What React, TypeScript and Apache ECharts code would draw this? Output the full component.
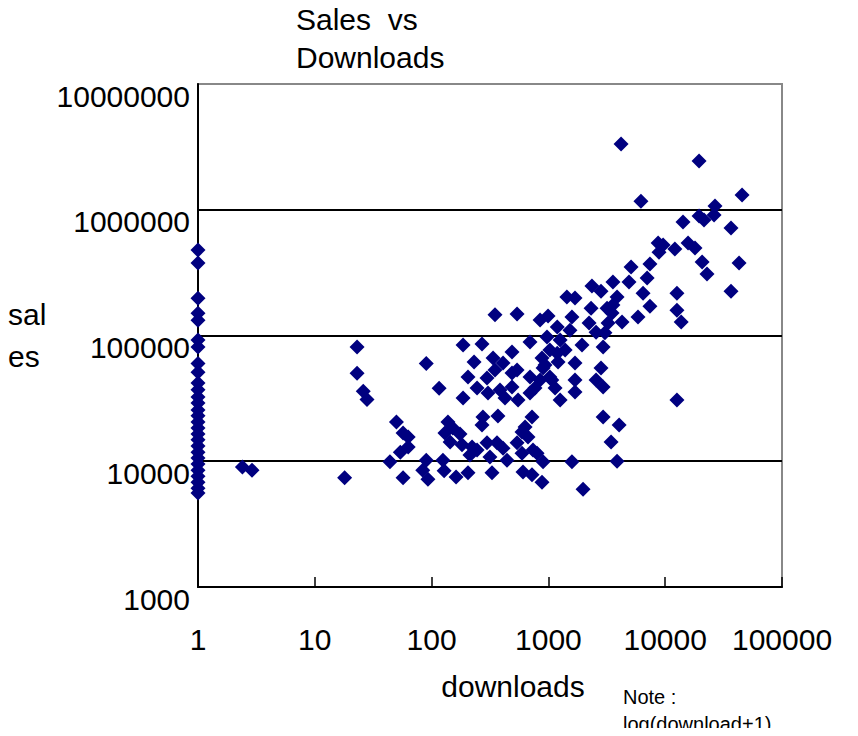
import React, { useEffect, useRef } from "react";
import * as echarts from "echarts";

const titleText = "Sales  vs\nDownloads";
const xAxisName = "downloads";
const yAxisName = "sal\nes";
const noteText = "Note :\nlog(download+1)";

const xMin = 1;
const xMax = 100000;
const yMin = 1000;
const yMax = 10000000;

// titles with zero downloads, plotted at log(download+1) -> 1
const zeroDownloadSales = [
  478000, 378000, 198000, 150000, 132000, 92000, 81000, 60000, 51000, 42000,
  37000, 32400, 29000, 25600, 23000, 20500, 18400, 16500, 14800, 13200,
  11800, 10600, 9500, 8500, 7600, 6800, 6100, 5600,
];

const downloads = [
  2.4, 2.9, 18, 23, 23, 26, 28,
  50, 57, 63, 63, 54, 44, 57,
  90, 116, 90, 84, 93, 125, 128, 162, 205,
  138, 130, 152, 175, 144, 182, 222, 213,
  186, 270, 231, 205, 186, 245, 298, 336, 409, 488,
  349, 539, 304, 349, 385, 425, 488, 539, 550, 488,
  275, 370, 270, 298, 363, 245, 316, 409, 442, 329,
  539, 594, 631, 669, 724, 594, 738, 800, 900, 606, 724, 882, 1590, 1980,
  696, 696, 768, 696, 848, 900, 882, 1030, 973, 848, 993, 1190, 1070, 1140, 1260, 1210, 1390, 1590, 1530, 1440, 1690, 1940, 1690, 1690, 1690,
  1260, 1190, 935, 1030,
  4190, 19500, 6200, 45500, 26700, 19500, 21500, 26200, 14200, 36600, 8700, 9600, 8850, 12100, 15700, 18000, 20700, 22800, 42900, 36600,
  5100, 7400, 7000, 4900, 3570, 2360, 2820, 6460, 12600, 12600, 13700, 7400, 5850, 3870, 3570, 3180, 2320, 4270, 3510, 3240, 2230, 2560, 3050, 2940, 2820, 2560, 2940, 12600, 2940, 3440, 4030, 3870,
];

const sales = [
  9000, 8500, 7400, 81000, 50000, 36000, 31000,
  20500, 16800, 15600, 13000, 11800, 9900, 7400,
  60000, 38000, 10200, 8500, 7200, 10200, 8400, 7500, 8100,
  20500, 16800, 18400, 16500, 14200, 13500, 13000, 11200,
  84000, 85500, 61500, 46800, 31800, 38200, 45900, 66200, 60400, 73800,
  146000, 148000, 34900, 53100, 36800, 31800, 50400, 53100, 30700, 38900,
  22500, 22900, 19400, 14000, 14000, 12300, 10800, 12700, 10200, 8100,
  14000, 17100, 18700, 15600, 22500, 11600, 12300, 11600, 9900, 8200, 7800, 6800, 9900, 6000,
  88700, 46800, 38200, 34900, 44300, 55100, 66200, 76600, 97200, 133000, 143000, 117000, 44300, 38200, 30700, 61500, 76600, 140000, 110000, 202000, 199000, 84000, 60400, 44300, 35600,
  92000, 72400, 58200, 46800,
  3330000, 2440000, 1170000, 1310000, 1070000, 890000, 830000, 910000, 800000, 715000, 543000, 524000, 460000, 487000, 543000, 496000, 384000, 308000, 377000, 225000,
  350000, 370000, 287000, 266000, 266000, 247000, 225000, 217000, 217000, 159000, 128000, 171000, 140000, 202000, 175000, 165000, 165000, 128000, 151000, 126000, 126000, 106000, 105000, 81000, 55100, 44300, 38900, 30700, 22500, 14200, 19400, 10000,
];

const FONT = "'Liberation Sans', Arial, sans-serif";

export default function App() {
  const ref = useRef<HTMLDivElement>(null);

  useEffect(() => {
    if (!ref.current) return;
    const chart = echarts.init(ref.current, null, { renderer: "svg" });

    const points: number[][] = [];
    zeroDownloadSales.forEach((s) => points.push([1, s]));
    downloads.forEach((d, i) => points.push([d, sales[i]]));

    chart.setOption({
      animation: false,
      backgroundColor: "#ffffff",
      textStyle: { fontFamily: FONT },
      title: {
        text: titleText,
        left: 296,
        top: 0,
        padding: 0,
        textStyle: {
          fontFamily: FONT,
          fontSize: 30,
          fontWeight: "normal",
          color: "#000",
          lineHeight: 38,
        },
      },
      grid: {
        left: 198,
        right: 76,
        top: 84,
        bottom: 149,
        show: true,
        borderColor: "#888888",
        borderWidth: 2,
        backgroundColor: "#ffffff",
      },
      xAxis: {
        type: "log",
        logBase: 10,
        min: xMin,
        max: xMax,
        name: xAxisName,
        nameLocation: "middle",
        nameGap: 84,
        nameTextStyle: {
          fontFamily: FONT,
          fontSize: 30,
          color: "#000",
          padding: [0, 0, 0, 46],
        },
        axisLine: { show: true, lineStyle: { color: "#000", width: 2 } },
        axisTick: { show: true, inside: true, length: 10, lineStyle: { color: "#000", width: 1.5 } },
        minorTick: { show: false },
        splitLine: { show: false },
        axisLabel: {
          fontFamily: FONT,
          fontSize: 30,
          color: "#000",
          margin: 37,
          lineHeight: 30,
          formatter: (v: number) => String(Math.round(v)),
        },
      },
      yAxis: {
        type: "log",
        logBase: 10,
        min: yMin,
        max: yMax,
        name: yAxisName,
        nameLocation: "middle",
        nameRotate: 0,
        nameGap: 190,
        nameTextStyle: {
          fontFamily: FONT,
          fontSize: 30,
          color: "#000",
          align: "left",
          lineHeight: 42,
        },
        axisLine: { show: true, lineStyle: { color: "#000", width: 2 } },
        axisTick: { show: false },
        minorTick: { show: false },
        splitLine: {
          show: true,
          showMinLine: false,
          showMaxLine: false,
          lineStyle: { color: "#000", width: 2 },
        },
        axisLabel: {
          fontFamily: FONT,
          fontSize: 30,
          color: "#000",
          margin: 8,
          verticalAlign: "top",
          lineHeight: 24,
          formatter: (v: number) => String(Math.round(v)),
        },
      },
      graphic: [
        {
          type: "text",
          left: 623,
          top: 683,
          style: {
            text: noteText,
            fontFamily: FONT,
            fontSize: 20,
            lineHeight: 27,
            fill: "#000",
          },
        },
      ],
      series: [
        {
          type: "scatter",
          data: points,
          symbol: "diamond",
          symbolSize: 15,
          clip: false,
          itemStyle: { color: "#000080", opacity: 1 },
        },
      ],
    });

    return () => chart.dispose();
  }, []);

  return <div ref={ref} style={{ width: 858, height: 736, margin: -8 }} />;
}
